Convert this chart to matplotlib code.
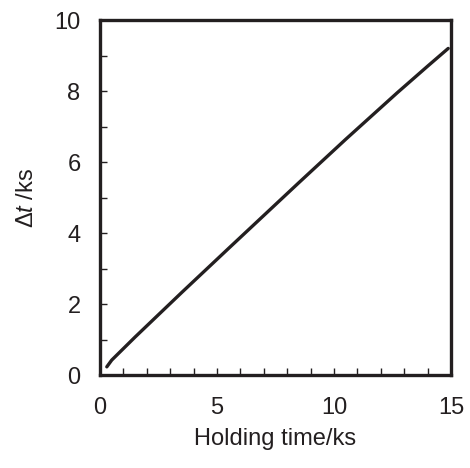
import matplotlib
matplotlib.use("Agg")
import matplotlib.pyplot as plt
from matplotlib.ticker import MultipleLocator

plt.rcParams['font.family'] = ['Liberation Sans', 'DejaVu Sans']
plt.rcParams['mathtext.fontset'] = 'custom'
plt.rcParams['mathtext.rm'] = 'Liberation Sans'
plt.rcParams['mathtext.it'] = 'Liberation Sans:italic'

# holding time (ks) vs. delta t (ks)
holding_time = [0.29, 0.5, 1.5, 2.5, 3.5, 5.5, 8.5, 10.5, 12.7, 14.0, 14.88]
delta_t = [0.23, 0.42, 1.07, 1.70, 2.33, 3.57, 5.42, 6.64, 7.95, 8.70, 9.20]

fig = plt.figure(figsize=(4.70, 4.68), dpi=100)
ax = fig.add_axes([0.2128, 0.1987, 0.7468, 0.7585])

ax.plot(holding_time, delta_t, color='#231f20', lw=2.4, solid_capstyle='round')

ax.set_xlim(0, 15)
ax.set_ylim(0, 10)
ax.xaxis.set_major_locator(MultipleLocator(5))
ax.xaxis.set_minor_locator(MultipleLocator(1))
ax.yaxis.set_major_locator(MultipleLocator(2))
ax.yaxis.set_minor_locator(MultipleLocator(1))

ax.tick_params(which='both', direction='in', length=5, width=1.0, color='#231f20',
               labelsize=17, labelcolor='#231f20')
ax.tick_params(axis='x', which='both', pad=16)
ax.tick_params(axis='y', which='both', pad=14)

for s in ax.spines.values():
    s.set_linewidth(2.4)
    s.set_color('#231f20')

ax.set_xlabel('Holding time/ks', fontsize=17, labelpad=6, color='#231f20')
ax.set_ylabel(r'$\mathit{\Delta t}$ /ks', fontsize=17, labelpad=12, color='#231f20')

fig.savefig('out.png', dpi=100)
